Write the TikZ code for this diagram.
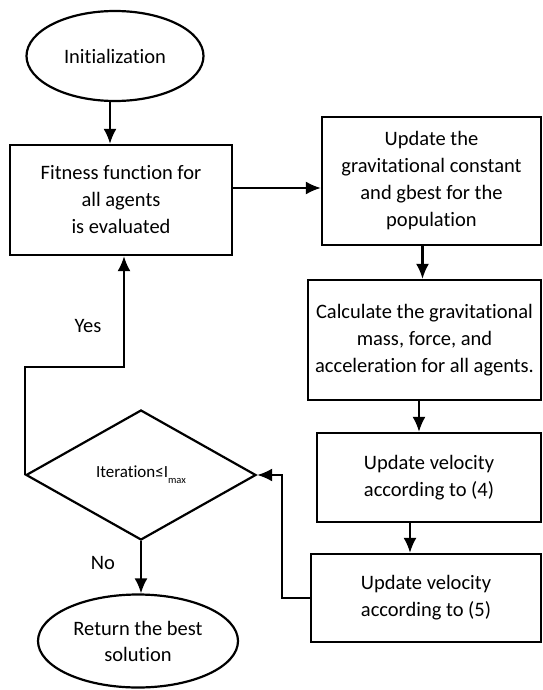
\documentclass[tikz,border=0pt]{standalone}
\usepackage{fontspec}
\setmainfont{Carlito}[Ligatures={NoCommon,NoRare}]
\usetikzlibrary{shapes.geometric,arrows.meta}
\begin{document}
\begin{tikzpicture}[x=1pt, y=-1pt]
	\tikzstyle{terminal} = [ draw, ellipse, line width=2.2pt, inner sep=0pt, align=center, font={\fontsize{20.5}{26}\selectfont} ];
	\tikzstyle{process} = [ draw, rectangle, line width=2.2pt, inner sep=0pt, align=center, font={\fontsize{20.5}{27}\selectfont} ];
	\tikzstyle{decision} = [ draw, diamond, line width=2.2pt, inner sep=0pt, font={\fontsize{17}{19}\selectfont} ];
	\tikzstyle{label} = [ font={\fontsize{20.5}{24}\selectfont} ];
	\tikzstyle{flow} = [ ->, line width=2.2pt, >={Latex[length=15pt,width=13pt]} ];

	\useasboundingbox (0,0) rectangle (542,690);

	\node[terminal, minimum width=177pt, minimum height=90pt] (init) at (115,56) {Initialization};
	\node[process, minimum width=222pt, minimum height=110pt] (fit) at (121,200) {Fitness function for\\all agents\\is evaluated};
	\node[process, minimum width=219pt, minimum height=128pt] (grav) at (431.5,181) {Update the\\gravitational constant\\and gbest for the\\population};
	\node[process, minimum width=233pt, minimum height=120pt] (calc) at (424.5,340) {Calculate the gravitational\\mass, force, and\\acceleration for all agents.};
	\node[process, minimum width=224pt, minimum height=89pt] (vel4) at (429,477.5) {Update velocity\\according to (4)};
	\node[process, minimum width=230pt, minimum height=88pt] (vel5) at (426,598) {Update velocity\\according to (5)};
	\node[decision, minimum width=230pt, minimum height=130pt, aspect=1.77] (cond) at (141,475) {Iteration≤I\raisebox{-6pt}{\fontsize{10.5}{11}\selectfont max}};
	\node[terminal, minimum width=200pt, minimum height=93pt] (ret) at (138,641) {Return the best\\solution};

	\node[label] (yes) at (88,326) {Yes};
	\node[label] (no) at (103,563) {No};

	\draw[flow] ([xshift=-5pt]init.south) -- ([xshift=-5pt]init.south |- fit.north);
	\draw[flow] ([yshift=12pt]fit.east) -- ([yshift=12pt]fit.east -| grav.west);
	\draw[flow] ([xshift=-9pt]grav.south) -- ([xshift=-9pt]grav.south |- calc.north);
	\draw[flow] ([xshift=-5.5pt]calc.south) -- ([xshift=-5.5pt]calc.south |- vel4.north);
	\draw[flow] ([xshift=-19pt]vel4.south) -- ([xshift=-19pt]vel4.south |- vel5.north);
	\draw[flow] (vel5.west) -- ++(-28,0) |- (cond.east);
	\draw[flow] (cond.west) -- ++(0,-108) -| ([xshift=3pt]fit.south);
	\draw[flow] (cond.south) -- (cond.south |- ret.north);
\end{tikzpicture}
\end{document}
